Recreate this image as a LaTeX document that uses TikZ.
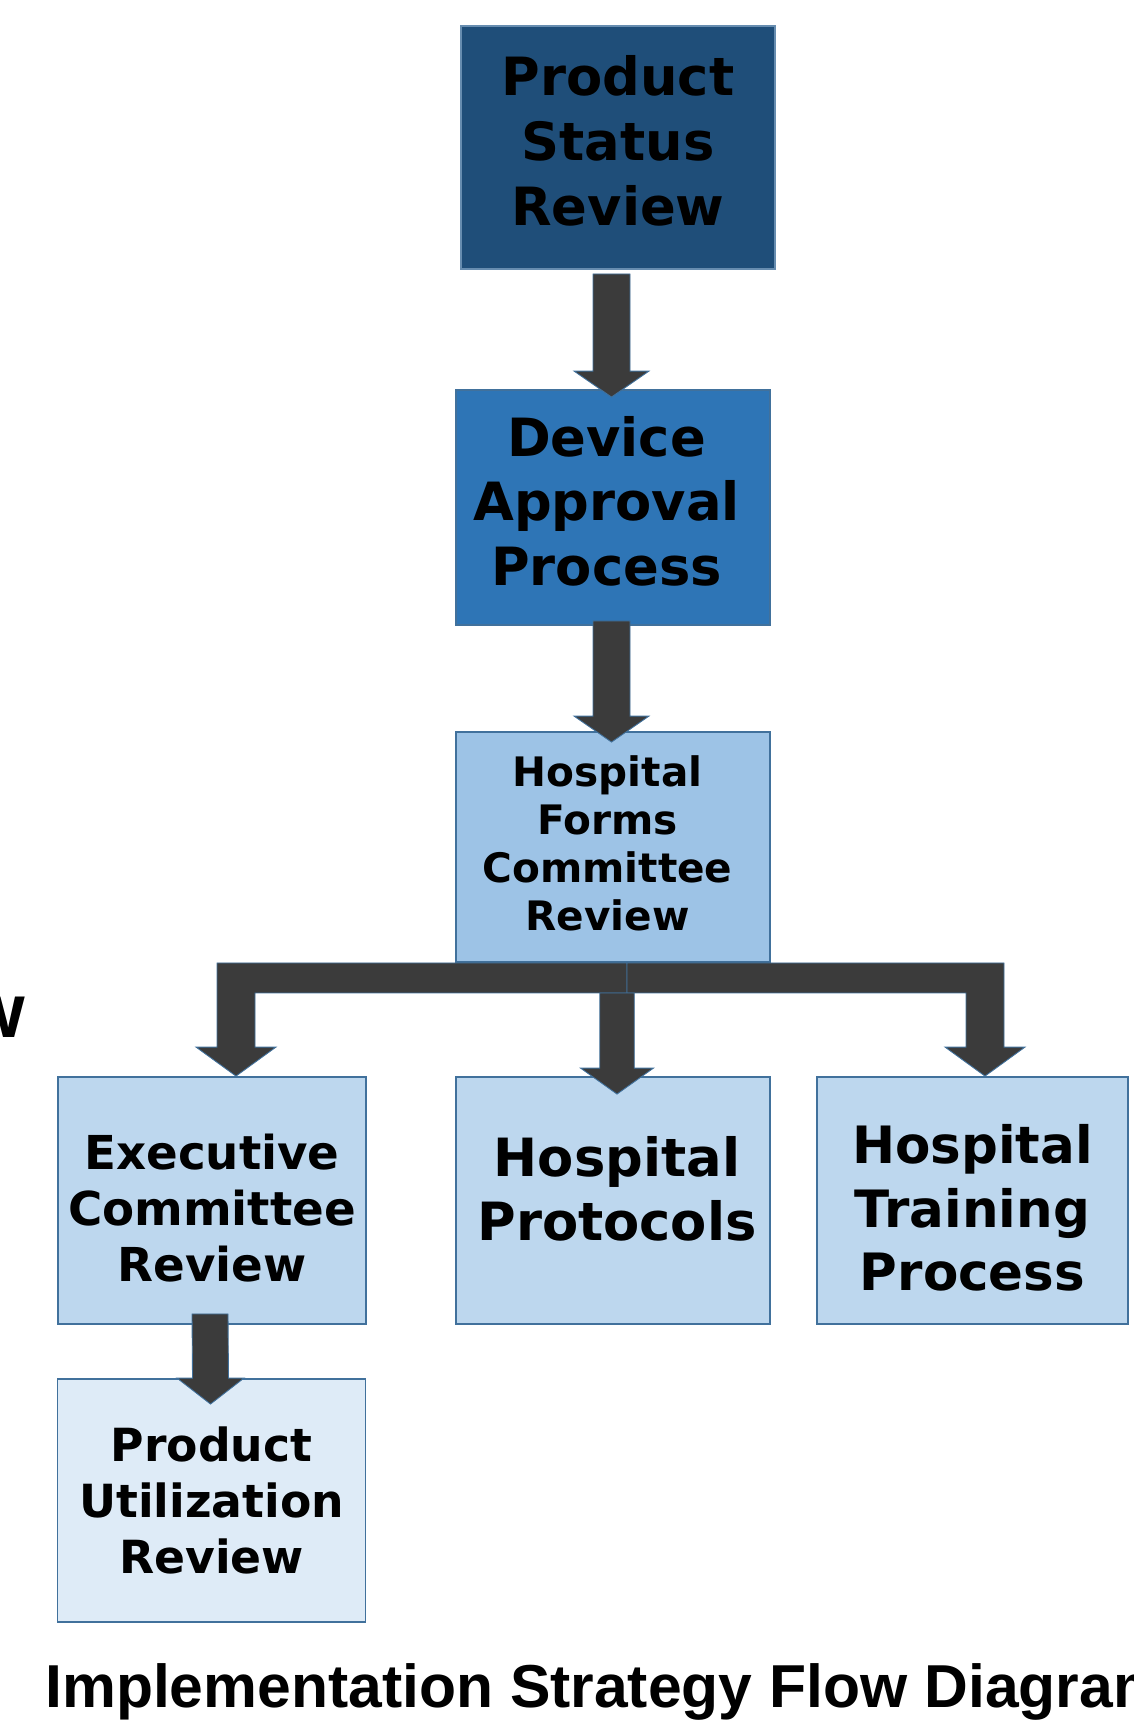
\documentclass[tikz,border=0pt]{standalone}
\usepackage{fontspec}
\usepackage{tikz}
\usetikzlibrary{calc}

\newfontfamily\boxfont{DejaVu Sans}
\newfontfamily\capfont{Liberation Sans}

\definecolor{psrblue}{HTML}{1F4E79}
\definecolor{dapblue}{HTML}{2E75B6}
\definecolor{hfcrblue}{HTML}{9DC3E6}
\definecolor{rowblue}{HTML}{BDD7EE}
\definecolor{purblue}{HTML}{DEEBF7}
\definecolor{edgeblue}{HTML}{41719C}
\definecolor{arrowgray}{HTML}{3B3B3B}

% straight block arrow: top of shaft, tip, half shaft width, half head width
\newcommand\fatarrow[4]{%
  \filldraw[fat] ($(#1)+(-#3,0)$) -- ($(#2)+(-#3,-26)$) -- ($(#2)+(-#4,-26)$) -- (#2)
    -- ($(#2)+(#4,-26)$) -- ($(#2)+(#3,-26)$) -- ($(#1)+(#3,0)$) -- cycle;}
% elbow block arrow: junction on the bar, tip, side (-1 left, 1 right)
\newcommand\elbow[3]{%
  \filldraw[fat] (#1) -| ($(#2)+({#3*19},-29)$) -- ($(#2)+({#3*40},-29)$) -- (#2)
    -- ($(#2)+({(-1)*(#3)*40},-29)$) -- ($(#2)+({(-1)*(#3)*19},-29)$) |- ($(#1)+(0,30)$) -- cycle;}

\tikzset{
  box/.style={draw=edgeblue, line width=1.1pt, inner sep=0pt},
  txt/.style={inner sep=0pt, align=center, text=black},
  fat/.style={fill=arrowgray, draw=edgeblue, line width=0.5pt, line join=miter}
}

\begin{document}
\begin{tikzpicture}[x=0.02cm, y=-0.02cm]
  \useasboundingbox (0,0) rectangle (1133,1721);

  % boxes
  \node[box, fill=psrblue, draw=edgeblue!80!white, minimum width=6.28cm, minimum height=4.86cm] (psr) at (618,147.5) {};
  \node[box, fill=dapblue, minimum width=6.28cm, minimum height=4.70cm] (dap) at (613,507.5) {};
  \node[box, fill=hfcrblue, minimum width=6.28cm, minimum height=4.60cm] (hfcr) at (613,847) {};
  \node[box, fill=rowblue, minimum width=6.16cm, minimum height=4.94cm] (exec) at (212,1200.5) {};
  \node[box, fill=rowblue, minimum width=6.28cm, minimum height=4.94cm] (prot) at (613,1200.5) {};
  \node[box, fill=rowblue, minimum width=6.22cm, minimum height=4.94cm] (train) at (972.5,1200.5) {};
  \node[box, fill=purblue, minimum width=6.16cm, minimum height=4.86cm] (pur) at (211.5,1500.5) {};

  % box texts
  \node[txt, font=\boxfont\bfseries\fontsize{30}{36.8}\selectfont] (psr-t) at ($(psr)+(0,-6.5)$) {Product\\Status\\Review};
  \node[txt, font=\boxfont\bfseries\fontsize{30}{36.8}\selectfont] (dap-t) at ($(dap)+(-6.5,-6.5)$) {Device\\Approval\\Process};
  \node[txt, font=\boxfont\bfseries\fontsize{23.1}{27.2}\selectfont] (hfcr-t) at ($(hfcr)+(-5.5,-3.5)$) {Hospital\\Forms\\Committee\\Review};
  \node[txt, font=\boxfont\bfseries\fontsize{26.6}{31.7}\selectfont] (exec-t) at ($(exec)+(0,7.5)$) {Executive\\Committee\\Review};
  \node[txt, font=\boxfont\bfseries\fontsize{30}{36.3}\selectfont] (prot-t) at ($(prot)+(4,-12)$) {Hospital\\Protocols};
  \node[txt, font=\boxfont\bfseries\fontsize{29.3}{36.3}\selectfont] (train-t) at ($(train)+(0,7.5)$) {Hospital\\Training\\Process};
  \node[txt, font=\boxfont\bfseries\fontsize{26}{31.7}\selectfont] (pur-t) at (pur) {Product\\Utilization\\Review};

  % arrow ends
  \coordinate (t1) at ($(psr.south)+(-6.5,4)$);
  \coordinate (h1) at ($(dap.north)+(-1.5,8)$);
  \coordinate (t2) at ($(dap.south)+(-1.5,-5)$);
  \coordinate (h2) at ($(hfcr.north)+(-1.5,11)$);
  \coordinate (j)  at ($(hfcr.south)+(14,0)$);
  \coordinate (hl) at ($(exec.north)+(24,0)$);
  \coordinate (hr) at ($(train.north)+(12.5,0)$);
  \coordinate (tc) at ($(hfcr.south)+(4,30)$);
  \coordinate (hc) at ($(prot.north)+(4,18)$);
  \coordinate (t3) at ($(exec.south)+(-2,-11)$);
  \coordinate (h3) at ($(pur.north)+(-1,26)$);

  \fatarrow{t1}{h1}{18.5}{37.5}
  \fatarrow{t2}{h2}{18.5}{37.5}
  \elbow{j}{hl}{-1}
  \elbow{j}{hr}{1}
  \fatarrow{tc}{hc}{17.25}{36.5}
  \fatarrow{t3}{h3}{18}{33.5}

  \node[anchor=base east, inner sep=0pt, font=\capfont\bfseries\fontsize{43.6}{50}\selectfont] (w) at (25,1037) {w};
  \node[anchor=base west, inner sep=0pt, font=\capfont\bfseries\fontsize{34.5}{40}\selectfont] (title) at (45,1707)
    {Implementation Strategy Flow Diagram};
\end{tikzpicture}
\end{document}
